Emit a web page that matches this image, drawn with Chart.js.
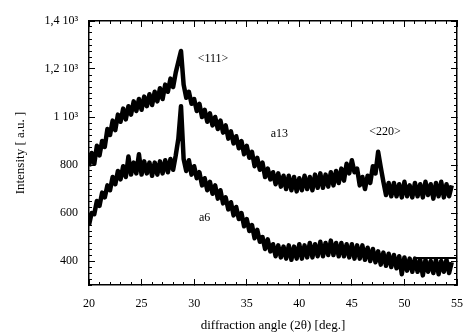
<!DOCTYPE html>
<html>
<head>
<meta charset="utf-8">
<script src="https://cdn.jsdelivr.net/npm/chart.js@4"></script>
<style>
body { margin: 0; background: #fff; }
#wrap { width: 463px; height: 336px; position: relative; }
</style>
</head>
<body>
<div id="wrap"><canvas id="myChart"></canvas></div>
<script>
// diffraction angle, 0.25 deg steps
const angles = [
	20, 20.25, 20.5, 20.75, 21, 21.25, 21.5, 21.75, 22, 22.25, 22.5, 22.75,
	23, 23.25, 23.5, 23.75, 24, 24.25, 24.5, 24.75, 25, 25.25, 25.5, 25.75,
	26, 26.25, 26.5, 26.75, 27, 27.25, 27.5, 27.75, 28, 28.25, 28.5, 28.75,
	29, 29.25, 29.5, 29.75, 30, 30.25, 30.5, 30.75, 31, 31.25, 31.5, 31.75,
	32, 32.25, 32.5, 32.75, 33, 33.25, 33.5, 33.75, 34, 34.25, 34.5, 34.75,
	35, 35.25, 35.5, 35.75, 36, 36.25, 36.5, 36.75, 37, 37.25, 37.5, 37.75,
	38, 38.25, 38.5, 38.75, 39, 39.25, 39.5, 39.75, 40, 40.25, 40.5, 40.75,
	41, 41.25, 41.5, 41.75, 42, 42.25, 42.5, 42.75, 43, 43.25, 43.5, 43.75,
	44, 44.25, 44.5, 44.75, 45, 45.25, 45.5, 45.75, 46, 46.25, 46.5, 46.75,
	47, 47.25, 47.5, 47.75, 48, 48.25, 48.5, 48.75, 49, 49.25, 49.5, 49.75,
	50, 50.25, 50.5, 50.75, 51, 51.25, 51.5, 51.75, 52, 52.25, 52.5, 52.75,
	53, 53.25, 53.5, 53.75, 54, 54.25, 54.5
];

const a13 = [
	795, 850, 805, 880, 840, 900, 875, 950, 925, 985, 945, 1010,
	980, 1035, 990, 1045, 1010, 1065, 1025, 1075, 1030, 1085, 1045, 1095,
	1050, 1105, 1065, 1120, 1075, 1135, 1105, 1160, 1125, 1185, 1230, 1275,
	1135, 1080, 1105, 1055, 1075, 1025, 1055, 1000, 1030, 980, 1015, 965,
	1000, 950, 985, 935, 965, 910, 940, 890, 920, 870, 900, 845,
	880, 830, 855, 795, 830, 780, 810, 750, 785, 740, 770, 720,
	765, 710, 755, 700, 755, 695, 750, 690, 745, 695, 755, 700,
	750, 695, 760, 705, 765, 705, 760, 710, 770, 715, 775, 725,
	785, 735, 805, 765, 820, 770, 785, 715, 750, 700, 755, 725,
	795, 765, 855, 790, 730, 675, 725, 670, 725, 670, 720, 665,
	730, 670, 715, 665, 725, 670, 720, 665, 730, 675, 720, 660,
	725, 670, 730, 665, 720, 670, 715
];

const a6 = [
	550, 600, 595, 650, 630, 685, 665, 715, 695, 750, 720, 775,
	740, 795, 750, 835, 760, 810, 765, 845, 760, 815, 765, 810,
	755, 810, 760, 815, 765, 820, 770, 825, 780, 840, 910, 1045,
	825, 775, 820, 760, 795, 745, 770, 715, 745, 695, 730, 680,
	715, 660, 695, 640, 665, 615, 645, 590, 625, 575, 600, 545,
	575, 525, 550, 495, 530, 480, 500, 450, 490, 440, 470, 420,
	465, 415, 460, 410, 465, 405, 460, 410, 470, 410, 465, 415,
	475, 415, 470, 420, 480, 420, 475, 425, 485, 425, 475, 420,
	475, 420, 470, 415, 470, 410, 465, 410, 465, 405, 455, 400,
	450, 395, 440, 385, 435, 380, 430, 375, 425, 370, 420, 345,
	415, 360, 410, 355, 410, 355, 405, 340, 405, 355, 400, 350,
	405, 345, 400, 355, 405, 350, 395
];

// short flat stroke at the right end of the lower trace
const baseX = [51, 55];
const baseY = [412, 412];

const xTickValues = [20, 25, 30, 35, 40, 45, 50, 55];
const xTickLabels = ['20', '25', '30', '35', '40', '45', '50', '55'];
const yTickValues = [400, 600, 800, 1000, 1200, 1400];
const yTickLabels = ['400', '600', '800', '1 10\u00b3', '1,2 10\u00b3', '1,4 10\u00b3'];

const noteText = ['<111>', 'a13', '<220>', 'a6'];
const noteX = [31.8, 38.1, 48.15, 31.0];
const noteY = [1242, 929, 937, 579];

const serif = "'Liberation Serif', 'DejaVu Serif', serif";

function pts(xs, ys) {
	return xs.map((x, i) => ({x: x, y: ys[i]}));
}

const noteFont = {
	id: 'notes',
	afterDatasetsDraw(chart) {
		const c = chart.ctx;
		c.save();
		c.fillStyle = '#000';
		c.font = '12px ' + serif;
		c.textAlign = 'center';
		c.textBaseline = 'middle';
		noteText.forEach((t, i) => {
			c.fillText(t, chart.scales.x.getPixelForValue(noteX[i]), chart.scales.y.getPixelForValue(noteY[i]));
		});
		c.restore();
	}
};

const inward = (len) => ({
	drawOnChartArea: false,
	drawTicks: true,
	tickLength: -len,
	tickColor: '#000',
	tickWidth: 1,
});

const zeroH = s => { s.height = 0; s.paddingLeft = 0; s.paddingRight = 0; };
const zeroW = s => { s.width = 0; s.paddingTop = 0; s.paddingBottom = 0; };

const ctx = document.getElementById('myChart');

let chart = new Chart(ctx, {
	type: 'line',
	data: {
		datasets: [{
				label: 'a13',
				data: pts(angles, a13),
				borderColor: '#000',
				borderWidth: 4.5,
				borderJoinStyle: 'round',
				pointRadius: 0,
			},
			{
				label: 'a6',
				data: pts(angles, a6),
				borderColor: '#000',
				borderWidth: 4.5,
				borderJoinStyle: 'round',
				pointRadius: 0,
			},
			{
				label: 'base',
				data: pts(baseX, baseY),
				borderColor: '#000',
				borderWidth: 2,
				pointRadius: 0,
			}
		],
	},
	options: {
		responsive: true,
		maintainAspectRatio: false,
		animation: false,
		layout: {padding: {top: 21, right: 6, left: 0, bottom: 0}},
		plugins: {
			legend: {display: false},
			tooltip: {enabled: false},
		},
		scales: {
			xMinor: {
				type: 'linear', position: 'bottom', weight: 0,
				min: 20, max: 55,
				ticks: {display: false, stepSize: 1, maxTicksLimit: 100},
				grid: inward(3),
				border: {display: false},
				afterFit: zeroH,
			},
			x: {
				type: 'linear', position: 'bottom', weight: 1,
				min: 20, max: 55,
				afterBuildTicks: s => { s.ticks = xTickValues.map(v => ({value: v})); },
				ticks: {
					autoSkip: false, maxRotation: 0, padding: 18, color: '#000',
					font: {family: serif, size: 12},
					callback: v => xTickLabels[xTickValues.indexOf(v)],
				},
				grid: inward(6),
				border: {display: true, color: '#000', width: 1.5},
				title: {
					display: true, text: 'diffraction angle (2\u03b8) [deg.]', color: '#000',
					font: {family: serif, size: 13}, padding: {top: 0, bottom: 3},
				},
				afterFit: s => { s.height = 51; s.paddingLeft = 0; s.paddingRight = 0; },
			},
			xTopMinor: {
				type: 'linear', position: 'top', weight: 0,
				min: 20, max: 55,
				ticks: {display: false, stepSize: 1, maxTicksLimit: 100},
				grid: inward(3),
				border: {display: false},
				afterFit: zeroH,
			},
			xTop: {
				type: 'linear', position: 'top', weight: 1,
				min: 20, max: 55,
				ticks: {display: false, stepSize: 5},
				grid: inward(6),
				border: {display: true, color: '#000', width: 1.5},
				afterFit: zeroH,
			},
			yMinor: {
				type: 'linear', position: 'left', weight: 0,
				min: 300, max: 1400,
				ticks: {display: false, stepSize: 25, maxTicksLimit: 100},
				grid: inward(3),
				border: {display: false},
				afterFit: zeroW,
			},
			y: {
				type: 'linear', position: 'left', weight: 1,
				min: 300, max: 1400,
				afterBuildTicks: s => { s.ticks = yTickValues.map(v => ({value: v})); },
				ticks: {
					autoSkip: false, padding: 17, color: '#000',
					font: {family: serif, size: 12},
					callback: v => yTickLabels[yTickValues.indexOf(v)],
				},
				grid: inward(6),
				border: {display: true, color: '#000', width: 1.5},
				title: {
					display: true, text: 'Intensity [ a.u. ]', color: '#000',
					font: {family: serif, size: 13}, padding: {top: 13, bottom: 0},
				},
				afterFit: s => { s.width = 89; s.paddingTop = 0; s.paddingBottom = 0; },
			},
			yRightMinor: {
				type: 'linear', position: 'right', weight: 0,
				min: 300, max: 1400,
				ticks: {display: false, stepSize: 25, maxTicksLimit: 100},
				grid: inward(3),
				border: {display: false},
				afterFit: zeroW,
			},
			yRight: {
				type: 'linear', position: 'right', weight: 1,
				min: 300, max: 1400,
				afterBuildTicks: s => { s.ticks = yTickValues.map(v => ({value: v})); },
				ticks: {display: false},
				grid: inward(6),
				border: {display: true, color: '#000', width: 1.5},
				afterFit: zeroW,
			}
		}
	},
	plugins: [noteFont]
});
</script>
</body>
</html>
